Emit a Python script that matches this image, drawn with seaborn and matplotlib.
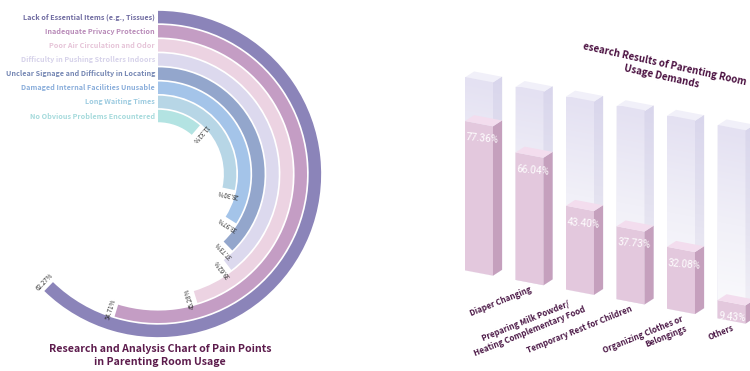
import numpy as np
import pandas as pd
import matplotlib
matplotlib.use("Agg")
import matplotlib.pyplot as plt
import seaborn as sns
from matplotlib.transforms import Affine2D
from matplotlib.patches import Polygon
from matplotlib.colors import LinearSegmentedColormap

sns.set_theme(style="white")
plt.rcParams['font.family'] = ['Noto Sans CJK SC', 'DejaVu Sans']

# ---- data: pain points (outer ring first) ----
pain_labels = ["Lack of Essential Items (e.g., Tissues)",
               "Inadequate Privacy Protection",
               "Poor Air Circulation and Odor",
               "Difficulty in Pushing Strollers Indoors",
               "Unclear Signage and Difficulty in Locating",
               "Damaged Internal Facilities Unusable",
               "Long Waiting Times",
               "No Obvious Problems Encountered"]
pain_values = [62.27, 54.71, 45.28, 39.62, 37.73, 33.97, 28.30, 11.32]
ring_colors = ["#8b84b9", "#c49dc4", "#ecd3e2", "#dcd9ee",
               "#93a6cc", "#a4c4e9", "#b7d6e6", "#b3e3e2"]
label_colors = ["#6e6aa0", "#b88ab8", "#e6c4d8", "#d6d2ea",
                "#7486b3", "#8aaedb", "#9ccbe0", "#a5dadc"]

# ---- data: usage demands ----
demand_values = [77.36, 66.04, 43.40, 37.73, 32.08, 9.43]
demand_labels = ["Diaper Changing",
                 "Preparing Milk Powder/\nHeating Complementary Food",
                 "Temporary Rest for Children",
                 "Organizing Clothes or\nBelongings",
                 "Others"]

W, H = 750, 371
fig = plt.figure(figsize=(W / 100, H / 100), dpi=100)

# ---------------- radial bar chart ----------------
cx, cy, R = 158, 174, 164
axp = fig.add_axes([(cx - R) / W, (H - cy - R) / H, 2 * R / W, 2 * R / H],
                   projection='polar')
axp.set_theta_zero_location('N')
axp.set_theta_direction(-1)
n = len(pain_values)
r_in, r_max = 3.6, 11.6
for i, (lab, v, c, tc) in enumerate(zip(pain_labels, pain_values, ring_colors, label_colors)):
    r0 = r_in + (n - 1 - i)
    axp.bar(0, 0.88, width=np.deg2rad(v * 3.6), bottom=r0 + 0.06, align='edge',
            color=c, linewidth=0)
    rc = r0 + 0.5
    axp.annotate(lab, xy=(0, rc), xytext=(-3, 0), textcoords='offset pixels',
                 ha='right', va='center', color=tc, fontsize=5.2,
                 fontweight='bold', annotation_clip=False)
    th = v * 3.6
    axp.text(np.deg2rad(th + 0.8), rc, f"{v:.2f}%", rotation=270 - th,
             rotation_mode='anchor', ha='center', va='bottom',
             fontsize=4.5, color='#333333')
axp.set_ylim(0, r_max)
axp.set_axis_off()

fig.text(160 / W, 1 - 355.5 / H,
         "Research and Analysis Chart of Pain Points\nin Parenting Room Usage",
         ha='center', va='center', fontsize=7.6, fontweight='bold',
         color='#5c1b4c', linespacing=1.45)

# ---------------- pseudo-3D bar chart ----------------
px_x, px_y = 50.5, 1.93      # pixels per category / per percent
x0_px, base_px = 479, 273    # first bar centre, baseline (from top)
slope = 0.19 * px_x / px_y
bar_w, dx, dy = 0.554, 0.18, 3.95

axb = fig.add_axes([430 / W, 0, 320 / W, 1])
df = pd.DataFrame({"bar": [str(i) for i in range(len(demand_values))],
                   "value": demand_values,
                   "full": [100] * len(demand_values)})
sns.barplot(data=df, x="bar", y="full", width=bar_w, color="#e6e3f3",
            errorbar=None, ax=axb)
sns.barplot(data=df, x="bar", y="value", width=bar_w, color="#e7c4df",
            errorbar=None, ax=axb)

skew = Affine2D(np.array([[1.0, 0.0, 0.0], [-slope, 1.0, 0.0], [0.0, 0.0, 1.0]]))
tr = skew + axb.transData

grad_front = LinearSegmentedColormap.from_list("gf", ["#fbfbfd", "#f1f0f8", "#e4e1f2"])
grad_side = LinearSegmentedColormap.from_list("gs", ["#f3f2f8", "#e4e2f0", "#d9d6ec"])
grad = np.linspace(0, 1, 64).reshape(-1, 1)

nb = len(demand_values)
for k, p in enumerate(axb.patches):
    x, w, h = p.get_x(), p.get_width(), p.get_height()
    back = k < nb
    z = 1 if back else 3
    p.set_transform(tr)
    p.set_zorder(z)
    p.set_linewidth(0)
    side = Polygon([(x + w, 0), (x + w + dx, dy), (x + w + dx, h + dy), (x + w, h)],
                   closed=True, transform=tr, linewidth=0, zorder=z,
                   facecolor="#dcdaee" if back else "#c5a0bd")
    top = Polygon([(x, h), (x + w, h), (x + w + dx, h + dy), (x + dx, h + dy)],
                  closed=True, transform=tr, linewidth=0, zorder=z,
                  facecolor="#f1f0f9" if back else "#f3ddee")
    axb.add_patch(side)
    axb.add_patch(top)
    if back:
        im = axb.imshow(grad, cmap=grad_front, origin='lower', aspect='auto',
                        extent=[x, x + w, 0, h], transform=tr, zorder=1.1)
        im.set_clip_path(p)
        im2 = axb.imshow(grad, cmap=grad_side, origin='lower', aspect='auto',
                         extent=[x + w, x + w + dx, 0, h + dy], transform=tr, zorder=1.1)
        im2.set_clip_path(side)
    else:
        axb.text(x + 0.01, h - 9, f"{demand_values[k - nb]:.2f}%", transform=tr,
                 ha='left', va='center', color='white', fontsize=7.3,
                 rotation=-5, family=['Roboto', 'DejaVu Sans'],
                 zorder=5)

for k, lab in enumerate(demand_labels):
    axb.text(k + 1 + 0.0, -1.5, lab, transform=tr, ha='right', va='top',
             rotation=22, rotation_mode='anchor', fontsize=5.8,
             fontweight='bold', color='#4b1846', multialignment='right'
             if k == 3 else 'center', zorder=6)

axb.set_xlim((430 - x0_px) / px_x, (750 - x0_px) / px_x)
axb.set_ylim(-(H - base_px) / px_y, base_px / px_y)
axb.set_axis_off()

fig.text(663 / W, 1 - 70 / H, "esearch Results of Parenting Room\nUsage Demands",
         ha='center', va='center', rotation=-12.5, rotation_mode='anchor',
         fontsize=7, fontweight='bold', color='#4a1040', linespacing=1.3)

fig.savefig("out.png", dpi=100, facecolor='white')
